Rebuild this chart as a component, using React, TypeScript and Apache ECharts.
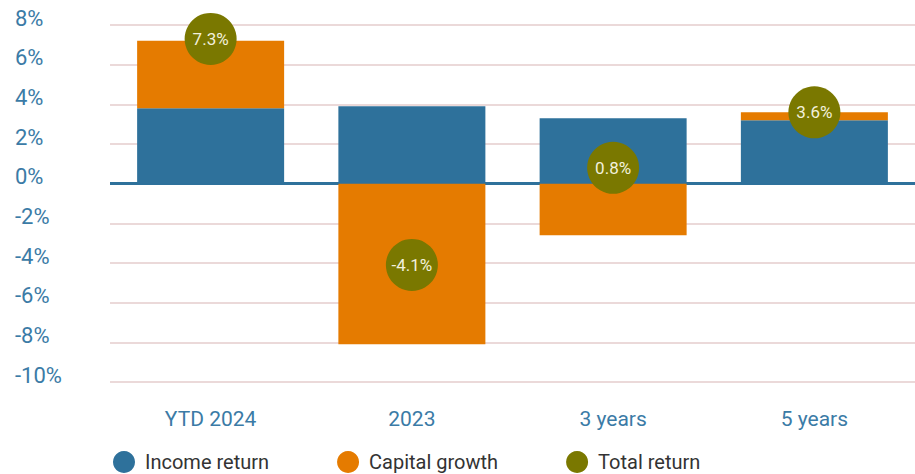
import React, { useEffect, useRef } from "react";
import * as echarts from "echarts";

const categories = ["YTD 2024", "2023", "3 years", "5 years"];
const incomeReturn = [3.8, 3.9, 3.3, 3.2];
const capitalGrowth = [3.4, -8.1, -2.6, 0.4];
const totalReturn = [7.3, -4.1, 0.8, 3.6];

const BLUE = "#2E719B";
const ORANGE = "#E57B00";
const OLIVE = "#7A7800";
const AXIS_TEXT = "#3B7BA6";

export default function App() {
  const ref = useRef<HTMLDivElement>(null);
  useEffect(() => {
    if (!ref.current) return;
    const chart = echarts.init(ref.current, null, { renderer: "svg" });
    chart.setOption({
      animation: false,
      grid: { left: 110, right: 0, top: 25, bottom: 92 },
      legend: {
        left: 108,
        top: 446,
        icon: "circle",
        itemWidth: 22,
        itemHeight: 22,
        itemGap: 68,
        textStyle: {
          fontFamily: "Roboto",
          fontSize: 20,
          color: "#333333",
          lineHeight: 20,
          padding: [0, 0, 0, 5],
        },
        data: ["Income return", "Capital growth", "Total return"],
      },
      xAxis: {
        type: "category",
        data: categories,
        axisLine: { show: false },
        axisTick: { show: false },
        axisLabel: {
          margin: 26,
          fontFamily: "Roboto",
          fontSize: 21,
          color: AXIS_TEXT,
        },
      },
      yAxis: {
        type: "value",
        min: -10,
        max: 8,
        interval: 2,
        axisLine: { show: false },
        axisTick: { show: false },
        splitLine: { lineStyle: { color: "#E4CDCD", width: 1.5 } },
        axisLabel: {
          formatter: "{value}%",
          align: "left",
          verticalAlign: "bottom",
          lineHeight: 14,
          margin: 95,
          fontFamily: "Roboto",
          fontSize: 22,
          color: AXIS_TEXT,
        },
      },
      series: [
        {
          name: "Income return",
          type: "bar",
          stack: "r",
          barWidth: 147,
          itemStyle: { color: BLUE },
          data: incomeReturn,
          markLine: {
            silent: true,
            symbol: "none",
            label: { show: false },
            lineStyle: { color: BLUE, width: 3, type: "solid" },
            data: [{ yAxis: 0 }],
            z: 1,
          },
        },
        {
          name: "Capital growth",
          type: "bar",
          stack: "r",
          barWidth: 147,
          itemStyle: { color: ORANGE },
          data: capitalGrowth,
        },
        {
          name: "Total return",
          type: "scatter",
          symbolSize: 52,
          itemStyle: { color: OLIVE, opacity: 1 },
          z: 10,
          label: {
            show: true,
            position: "inside",
            formatter: (p: any) => p.value.toFixed(1) + "%",
            fontFamily: "Roboto",
            fontSize: 17,
            color: "#F2F0DC",
          },
          data: totalReturn,
        },
      ],
    });
    return () => chart.dispose();
  }, []);
  return <div ref={ref} style={{ width: 915, height: 474, position: "absolute", left: 0, top: 0 }} />;
}
